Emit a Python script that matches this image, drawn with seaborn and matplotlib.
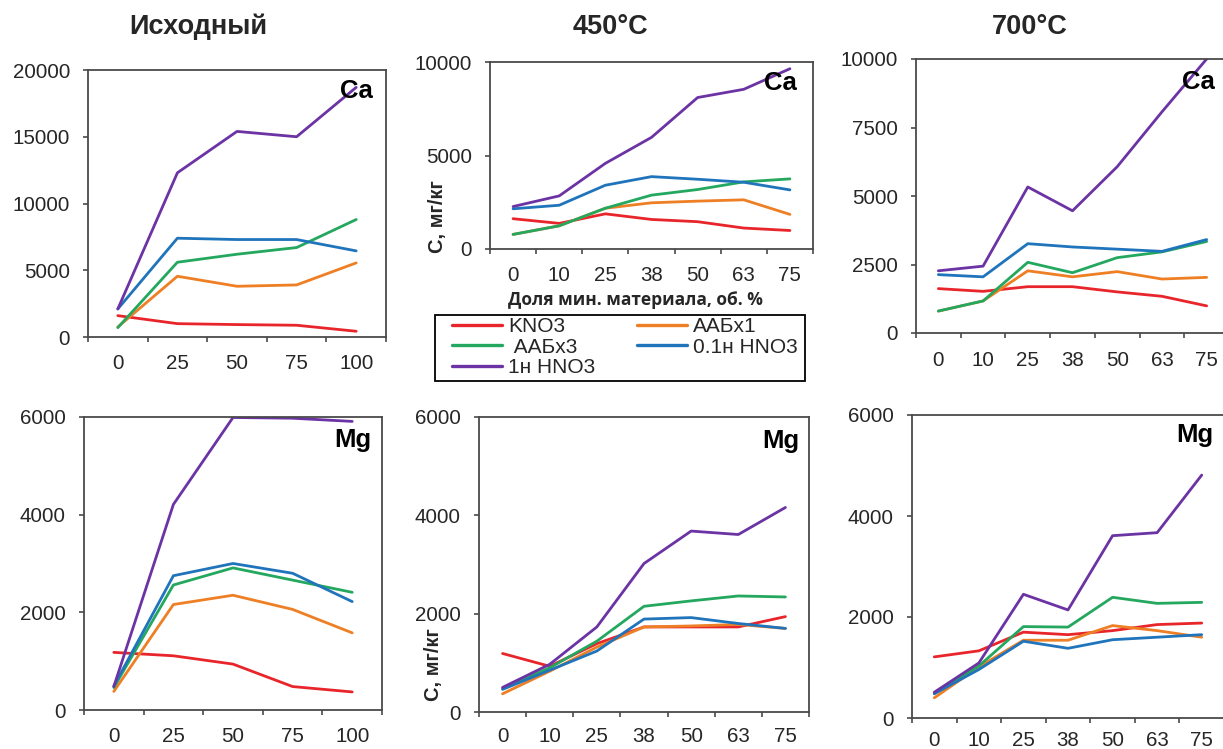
import numpy as np
import pandas as pd
import matplotlib
matplotlib.use("Agg")
import matplotlib.pyplot as plt
from matplotlib.patches import Rectangle
import seaborn as sns

sns.set_theme(style="white")
plt.rcParams['font.family'] = ['Liberation Sans', 'DejaVu Sans']

# ---------------- data ----------------
series_names = ["KNO3", "ААБх1", " ААБх3", "0.1н HNO3", "1н HNO3"]
series_colors = ["#e8252b", "#ee7f24", "#24a75e", "#1f74bb", "#6b33a3"]

cats_initial = ["0", "25", "50", "75", "100"]
cats_heated = ["0", "10", "25", "38", "50", "63", "75"]

# Ca, initial material
ca_init_kno3 = [1600, 1000, 930, 880, 430]
ca_init_aab1 = [750, 4550, 3800, 3900, 5550]
ca_init_aab3 = [700, 5600, 6200, 6700, 8800]
ca_init_hno3_01 = [2100, 7400, 7300, 7300, 6450]
ca_init_hno3_1 = [2100, 12300, 15400, 15000, 18700]

# Ca, 450°C
ca_450_kno3 = [1620, 1370, 1880, 1580, 1460, 1120, 990]
ca_450_aab1 = [780, 1240, 2180, 2470, 2560, 2630, 1850]
ca_450_aab3 = [780, 1240, 2180, 2880, 3180, 3590, 3750]
ca_450_hno3_01 = [2150, 2340, 3410, 3870, 3730, 3570, 3160]
ca_450_hno3_1 = [2270, 2840, 4580, 5970, 8100, 8540, 9640]

# Ca, 700°C
ca_700_kno3 = [1620, 1520, 1690, 1690, 1500, 1340, 990]
ca_700_aab1 = [800, 1170, 2270, 2050, 2240, 1970, 2030]
ca_700_aab3 = [800, 1170, 2580, 2200, 2750, 2960, 3340]
ca_700_hno3_01 = [2130, 2050, 3260, 3140, 3060, 2980, 3410]
ca_700_hno3_1 = [2270, 2440, 5330, 4460, 6070, 8070, 10000]

# Mg, initial material
mg_init_kno3 = [1180, 1110, 940, 480, 370]
mg_init_aab1 = [380, 2160, 2350, 2060, 1580]
mg_init_aab3 = [460, 2560, 2910, 2660, 2410]
mg_init_hno3_01 = [490, 2750, 3000, 2800, 2220]
mg_init_hno3_1 = [480, 4210, 5990, 5975, 5910]

# Mg, 450°C
mg_450_kno3 = [1190, 930, 1390, 1730, 1730, 1730, 1940]
mg_450_aab1 = [370, 830, 1320, 1730, 1750, 1780, 1700]
mg_450_aab3 = [480, 900, 1440, 2150, 2260, 2360, 2340]
mg_450_hno3_01 = [460, 850, 1240, 1890, 1920, 1800, 1700]
mg_450_hno3_1 = [500, 970, 1730, 3020, 3680, 3610, 4160]

# Mg, 700°C
mg_700_kno3 = [1210, 1330, 1700, 1650, 1730, 1850, 1880]
mg_700_aab1 = [400, 1010, 1540, 1540, 1830, 1730, 1600]
mg_700_aab3 = [490, 1030, 1810, 1800, 2390, 2270, 2290]
mg_700_hno3_01 = [480, 960, 1520, 1380, 1550, 1600, 1650]
mg_700_hno3_1 = [510, 1090, 2450, 2140, 3610, 3670, 4810]

col_titles = ["Исходный", "450°C", "700°C"]
y_label = "С, мг/кг"
x_label = "Доля мин. материала, об. %"

ca_ticks_init = [0, 5000, 10000, 15000, 20000]
ca_ticks_450 = [0, 5000, 10000]
ca_ticks_700 = [0, 2500, 5000, 7500, 10000]
mg_ticks = [0, 2000, 4000, 6000]


def make_df(cats, *vals):
    rows = []
    for name, v in zip(series_names, vals):
        for c, y in zip(cats, v):
            rows.append({"x": c, "y": y, "series": name})
    return pd.DataFrame(rows)


panels = [
    (make_df(cats_initial, ca_init_kno3, ca_init_aab1, ca_init_aab3, ca_init_hno3_01, ca_init_hno3_1),
     cats_initial, ca_ticks_init, 20000, (88, 386, 70, 337), "Ca", (0.956, 0.92), 12),
    (make_df(cats_heated, ca_450_kno3, ca_450_aab1, ca_450_aab3, ca_450_hno3_01, ca_450_hno3_1),
     cats_heated, ca_ticks_450, 10000, (490, 813, 62, 249), "Ca", (0.95, 0.89), 12),
    (make_df(cats_heated, ca_700_kno3, ca_700_aab1, ca_700_aab3, ca_700_hno3_01, ca_700_hno3_1),
     cats_heated, ca_ticks_700, 10000, (916, 1229, 59, 333), "Ca", (0.956, 0.917), 13),
    (make_df(cats_initial, mg_init_kno3, mg_init_aab1, mg_init_aab3, mg_init_hno3_01, mg_init_hno3_1),
     cats_initial, mg_ticks, 6000, (84, 382, 417, 710), "Mg", (0.963, 0.92), 12),
    (make_df(cats_heated, mg_450_kno3, mg_450_aab1, mg_450_aab3, mg_450_hno3_01, mg_450_hno3_1),
     cats_heated, mg_ticks, 6000, (479, 809, 417, 712), "Mg", (0.97, 0.92), 11),
    (make_df(cats_heated, mg_700_kno3, mg_700_aab1, mg_700_aab3, mg_700_hno3_01, mg_700_hno3_1),
     cats_heated, mg_ticks, 6000, (912, 1224, 415, 718), "Mg", (0.967, 0.934), 9.5),
]

W, H = 1223, 749
fig = plt.figure(figsize=(W / 100, H / 100), dpi=100)
palette = dict(zip(series_names, series_colors))

spine_color = "#4a4a4a"
tick_fs = 14.8
axes = []
for i, (df, cats, yticks, ymax, (x0, x1, yt, yb), lab, (lx, ly), xpad) in enumerate(panels):
    ax = fig.add_axes([x0 / W, 1 - yb / H, (x1 - x0) / W, (yb - yt) / H])
    sns.lineplot(data=df, x="x", y="y", hue="series", palette=palette,
                 hue_order=series_names, estimator=None, sort=False,
                 linewidth=2.0, ax=ax, legend=(i == 1))
    n = len(cats)
    ax.set_xlim(-0.5, n - 0.5)
    ax.set_ylim(0, ymax)
    ax.set_xticks(np.arange(n + 1) - 0.5, [""] * (n + 1))
    ax.set_xticks(np.arange(n), cats, minor=True)
    ax.set_yticks(yticks, [str(t) for t in yticks])
    ax.tick_params(axis="x", which="major", direction="out", length=3.6, width=1.2,
                   color=spine_color, bottom=True)
    ax.tick_params(axis="x", which="minor", length=0, pad=xpad, labelsize=tick_fs,
                   bottom=True)
    ax.tick_params(axis="y", direction="out", length=3.6, width=1.2, color=spine_color,
                   left=True, labelsize=tick_fs, pad=9.4)
    for s in ax.spines.values():
        s.set_color(spine_color)
        s.set_linewidth(1.3)
    ax.set_xlabel("")
    ax.set_ylabel("")
    ax.grid(False)
    ax.text(lx, ly, lab, transform=ax.transAxes, ha="right", va="center",
            fontsize=18.5, fontweight="bold", color="black")
    axes.append(ax)

# legend built from the 450°C Ca panel
handles, labels = axes[1].get_legend_handles_labels()
axes[1].get_legend().remove()
order = [0, 2, 4, 1, 3]
leg = fig.legend([handles[k] for k in order], [labels[k] for k in order],
                 ncol=2, loc="upper left",
                 bbox_to_anchor=(452 / W, 1 - 317 / H),
                 fontsize=15, frameon=False, handlelength=2.4, handletextpad=0.3,
                 labelspacing=0.08, columnspacing=2.0, borderpad=0,
                 borderaxespad=0)
for h in leg.legend_handles:
    h.set_linewidth(2.4)
fig.add_artist(Rectangle((435 / W, 1 - 381 / H), (805 - 435) / W, (381 - 315) / H,
                         transform=fig.transFigure, fill=False, edgecolor="black",
                         linewidth=1.3))

# axis labels
fig.text(635 / W, 1 - 300 / H, x_label, ha="center", va="center",
         fontsize=12.5, fontweight="bold", family=["Open Sans", "DejaVu Sans"])
fig.text(437 / W, 1 - 217 / H, y_label, ha="center", va="center", rotation=90,
         fontsize=14.5, fontweight="bold")
fig.text(433 / W, 1 - 665 / H, y_label, ha="center", va="center", rotation=90,
         fontsize=14.5, fontweight="bold")

# column titles
for title, cx in zip(col_titles, [198, 610, 1030]):
    fig.text(cx / W, 1 - 27 / H, title, ha="center", va="center",
             fontsize=19.5, fontweight="bold")

fig.savefig("out.png", dpi=100)
